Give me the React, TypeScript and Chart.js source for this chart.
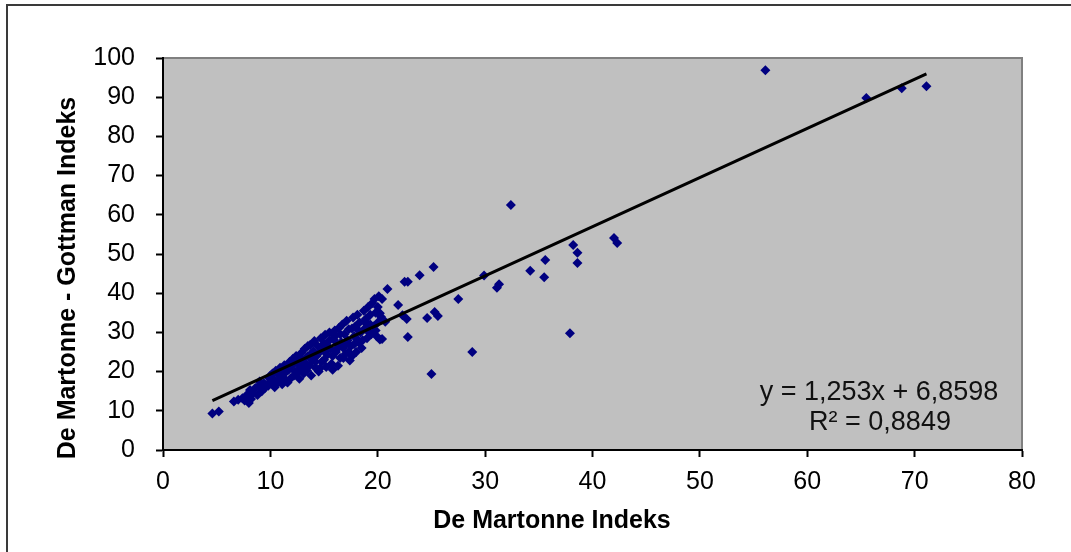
import React, { useEffect, useRef } from 'react';
import { Chart, registerables } from 'chart.js';

Chart.register(...registerables);

// De Martonne index (x) vs De Martonne - Gottman index (y)
const xValues: number[] = [
  4.6, 5.2, 6.6, 7.0, 7.4, 7.8, 8.0, 8.2, 7.6, 8.4, 8.1,
  8.6, 8.8, 9.0, 9.2, 9.0, 9.4, 9.5, 8.9,
  9.8, 9.9, 10.1, 10.2, 10.4, 10.3, 10.5, 10.0,
  10.7, 10.8, 11.0, 11.1, 11.2, 11.3, 11.4, 11.5, 10.9,
  11.7, 11.8, 11.9, 12.0, 12.1, 12.2, 12.3, 12.4, 12.5, 11.6,
  12.7, 12.8, 12.9, 13.0, 13.1, 13.2, 13.3, 13.4, 13.5, 12.6,
  13.7, 13.8, 13.9, 14.0, 14.1, 14.2, 14.3, 14.4, 14.5, 13.6, 14.0,
  14.7, 14.8, 14.9, 15.0, 15.1, 15.2, 15.3, 15.4, 15.5, 14.6, 15.0,
  15.7, 15.8, 15.9, 16.0, 16.1, 16.2, 16.3, 16.4, 16.5, 15.6, 16.0,
  16.7, 16.8, 16.9, 17.0, 17.1, 17.2, 17.3, 17.4, 17.5, 16.6,
  17.7, 17.8, 17.9, 18.0, 18.1, 18.2, 18.3, 18.4, 18.5, 17.6,
  18.7, 18.8, 18.9, 19.0, 19.1, 19.2, 19.3, 19.4, 19.5, 18.6, 19.0,
  19.7, 19.8, 19.9, 20.0, 20.1, 20.2, 20.3, 20.0, 19.6,
  12.5, 13.0, 13.8, 14.6, 15.0, 15.8, 16.3, 16.5, 17.0, 17.6, 17.8, 18.2,
  18.8, 19.3, 19.8, 17.3, 16.8, 18.0, 14.2, 15.5, 11.0, 10.0, 12.9, 13.5,
  20.9, 20.4, 20.2, 20.4, 20.7, 21.9, 22.3, 22.7, 22.8, 24.6, 25.3, 25.6,
  27.5, 25.2, 23.9, 22.5, 22.8, 25.0, 28.8, 29.9, 31.1, 31.3, 32.4, 34.2,
  35.5, 35.6, 37.9, 38.2, 38.6, 38.6, 42.0, 42.3, 56.1, 65.5, 68.8, 71.1,
];

const yValues: number[] = [
  9.3, 9.8, 12.4, 12.8, 13.2, 14.0, 12.0, 13.0, 12.6, 14.5, 15.3,
  15.8, 14.0, 16.5, 15.0, 17.5, 17.0, 15.8, 16.2,
  16.4, 18.3, 17.0, 19.5, 16.0, 18.0, 20.2, 19.0,
  17.2, 19.0, 20.8, 16.8, 18.5, 21.6, 19.8, 17.5, 21.0,
  20.5, 22.5, 18.3, 21.5, 23.3, 19.0, 20.0, 24.0, 22.2, 17.2,
  18.2, 21.0, 24.8, 23.0, 19.5, 25.8, 22.0, 20.3, 24.0, 23.5,
  26.8, 19.0, 22.8, 25.2, 27.8, 21.0, 24.0, 26.5, 20.0, 21.5, 23.0,
  28.5, 22.5, 25.5, 27.2, 29.4, 21.2, 24.3, 26.0, 30.0, 20.8, 23.0,
  22.0, 20.5, 28.2, 30.5, 25.0, 27.0, 21.5, 31.2, 23.5, 25.8, 29.0,
  32.0, 26.0, 29.5, 24.5, 33.0, 28.0, 30.8, 22.8, 26.5, 27.5,
  33.8, 29.0, 31.5, 25.0, 34.5, 27.5, 32.5, 30.0, 26.0, 24.0,
  35.5, 31.0, 33.5, 28.5, 36.5, 30.0, 34.5, 29.5, 37.5, 28.0, 32.0,
  38.5, 35.0, 29.0, 36.5, 39.2, 28.2, 34.0, 32.5, 31.5,
  19.8, 21.5, 24.5, 25.0, 26.5, 24.0, 26.0, 29.5, 27.0, 31.0, 27.0, 30.5,
  33.0, 32.0, 30.5, 25.0, 23.5, 28.5, 22.5, 28.0, 18.5, 17.5, 22.8, 26.5,
  41.1, 38.5, 34.9, 28.3, 32.7, 37.0, 34.4, 33.4, 28.8, 33.7, 35.2, 34.2,
  38.5, 46.7, 44.6, 42.9, 42.9, 19.4, 25.0, 44.5, 41.4, 42.3, 62.5, 45.7,
  44.1, 48.5, 29.8, 52.3, 50.3, 47.7, 54.1, 52.8, 96.9, 89.8, 92.3, 92.8,
];

const xTicks: number[] = [0, 10, 20, 30, 40, 50, 60, 70, 80];
const yTicks: number[] = [0, 10, 20, 30, 40, 50, 60, 70, 80, 90, 100];

const slope = 1.253;
const intercept = 6.8598;
const rSquared = 0.8849;

const xTitle = 'De Martonne Indeks';
const yTitle = 'De Martonne - Gottman Indeks';

const FONT = "'Liberation Sans', Arial, sans-serif";

const fmt = (v: number, d: number) => v.toFixed(d).replace('.', ',');
const equationLines = [
  `y = ${fmt(slope, 3)}x + ${fmt(intercept, 4)}`,
  `R\u00B2 = ${fmt(rSquared, 4)}`,
];

export default function App() {
  const ref = useRef<HTMLCanvasElement | null>(null);

  useEffect(() => {
    if (!ref.current) return;
    const points = xValues.map((x, i) => ({ x, y: yValues[i] }));
    const xMin = Math.min(...xValues);
    const xMax = Math.max(...xValues);
    const trend = [
      { x: xMin, y: slope * xMin + intercept },
      { x: xMax, y: slope * xMax + intercept },
    ];

    const decor = {
      id: 'decor',
      beforeDraw(chart: any) {
        const { ctx, chartArea: a } = chart;
        ctx.save();
        ctx.fillStyle = '#ffffff';
        ctx.fillRect(0, 0, chart.width, chart.height);
        ctx.strokeStyle = '#3a3a3a';
        ctx.lineWidth = 2;
        ctx.strokeRect(7, 5, chart.width + 20, chart.height + 20);
        ctx.fillStyle = '#C0C0C0';
        ctx.fillRect(a.left, a.top, a.right - a.left, a.bottom - a.top);
        ctx.strokeStyle = '#808080';
        ctx.lineWidth = 2;
        ctx.beginPath();
        ctx.moveTo(a.left, a.top);
        ctx.lineTo(a.right, a.top);
        ctx.lineTo(a.right, a.bottom);
        ctx.stroke();
        ctx.restore();
      },
      afterDraw(chart: any) {
        const { ctx } = chart;
        ctx.save();
        ctx.fillStyle = '#000';
        ctx.textAlign = 'center';
        ctx.textBaseline = 'middle';
        ctx.font = `bold 25px ${FONT}`;
        ctx.fillText(xTitle, 552, 521);
        ctx.save();
        ctx.translate(68, 278);
        ctx.rotate(-Math.PI / 2);
        ctx.fillText(yTitle, 0, 0);
        ctx.restore();
        ctx.font = `27px ${FONT}`;
        ctx.fillStyle = '#111';
        ctx.fillText(equationLines[0], 879, 393);
        ctx.fillText(equationLines[1], 880, 423);
        ctx.restore();
      },
    };

    const chart = new Chart(ref.current, {
      type: 'scatter',
      data: {
        datasets: [
          {
            label: 'data',
            data: points,
            pointStyle: 'rectRot',
            pointRadius: 5,
            backgroundColor: '#000080',
            borderColor: '#000080',
            borderWidth: 0,
            order: 2,
          },
          {
            label: 'trend',
            type: 'line',
            data: trend,
            showLine: true,
            pointRadius: 0,
            borderColor: '#000000',
            borderWidth: 3,
            fill: false,
            order: 1,
          } as any,
        ],
      },
      options: {
        animation: false,
        responsive: false,
        devicePixelRatio: 1,
        layout: { padding: { top: 58, right: 49, bottom: 0, left: 0 } },
        plugins: {
          legend: { display: false },
          tooltip: { enabled: false },
          title: { display: false },
        },
        scales: {
          x: {
            type: 'linear',
            min: xTicks[0],
            max: xTicks[xTicks.length - 1],
            afterBuildTicks: (s: any) => {
              s.ticks = xTicks.map((v) => ({ value: v }));
            },
            afterFit: (s: any) => {
              s.height = 102;
            },
            grid: {
              display: true,
              drawOnChartArea: false,
              drawTicks: true,
              tickLength: 7,
              tickColor: '#000',
              tickWidth: 2,
            },
            border: { display: true, color: '#000', width: 2 },
            ticks: {
              color: '#000',
              font: { family: FONT, size: 25 },
              padding: 10,
              maxRotation: 0,
              autoSkip: false,
            },
          },
          y: {
            type: 'linear',
            min: yTicks[0],
            max: yTicks[yTicks.length - 1],
            afterBuildTicks: (s: any) => {
              s.ticks = yTicks.map((v) => ({ value: v }));
            },
            afterFit: (s: any) => {
              s.width = 163;
            },
            grid: {
              display: true,
              drawOnChartArea: false,
              drawTicks: true,
              tickLength: 7,
              tickColor: '#000',
              tickWidth: 2,
            },
            border: { display: true, color: '#000', width: 2 },
            ticks: {
              color: '#000',
              font: { family: FONT, size: 25 },
              padding: 21,
              autoSkip: false,
            },
          },
        },
      },
      plugins: [decor],
    });

    return () => chart.destroy();
  }, []);

  return (
    <div style={{ position: 'fixed', left: 0, top: 0, width: 1071, height: 552, background: '#fff' }}>
      <canvas ref={ref} width={1071} height={552} style={{ display: 'block', width: 1071, height: 552 }} />
    </div>
  );
}
